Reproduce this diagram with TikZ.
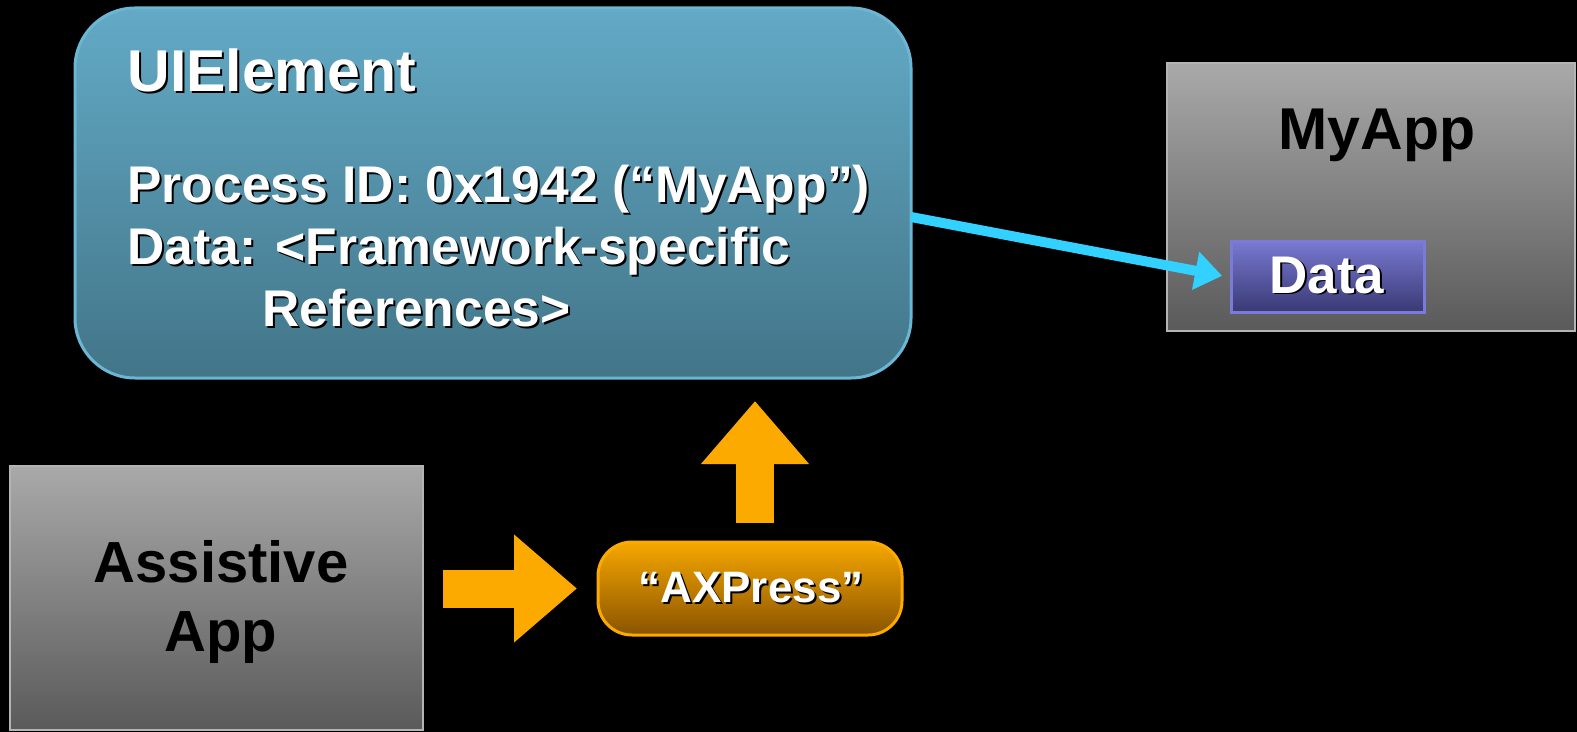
\documentclass[tikz,border=0pt]{standalone}
\usepackage{fontspec}
\setmainfont{Liberation Sans}
\usetikzlibrary{arrows.meta,calc}
\definecolor{uitop}{HTML}{63AAC6}
\definecolor{uibot}{HTML}{427588}
\definecolor{uiedge}{HTML}{6AB6D3}
\definecolor{gtop}{HTML}{A9A9A9}
\definecolor{gbot}{HTML}{5A5A5A}
\definecolor{gedge}{HTML}{B4B4B4}
\definecolor{dtop}{HTML}{7878D0}
\definecolor{dbot}{HTML}{383874}
\definecolor{dedge}{HTML}{7A7AD8}
\definecolor{otop}{HTML}{F6A700}
\definecolor{obot}{HTML}{8A5400}
\definecolor{oedge}{HTML}{FCAA00}
\definecolor{cyanline}{HTML}{33D1FF}
\newcommand\shd[1]{\leavevmode\rlap{\kern1pt\raisebox{-1pt}{\color{black}#1}}#1}
\begin{document}
\begin{tikzpicture}[x=0.5pt,y=-0.5pt,
  boxbase/.style={inner sep=0pt, outer sep=0pt},
  uibox/.style={boxbase, draw=uiedge, line width=1.5pt, rounded corners=30pt, top color=uitop, bottom color=uibot},
  graybox/.style={boxbase, draw=gedge, line width=1pt, top color=gtop, bottom color=gbot},
  databox/.style={boxbase, draw=dedge, line width=1.5pt, top color=dtop, bottom color=dbot},
  axbox/.style={boxbase, draw=oedge, line width=1.5pt, rounded corners=17pt, top color=otop, bottom color=obot},
  wtext/.style={inner sep=0pt, text=white, font=\bfseries\fontsize{#1}{#1}\selectfont},
  btext/.style={inner sep=0pt, text=black, font=\bfseries\fontsize{#1}{#1}\selectfont},
  blockarrow/.style={draw=oedge, line width=19pt, -{Triangle[length=31.5pt, width=52pt]}},
  cyanarrow/.style={draw=cyanline, line width=5pt, -{Triangle[length=13.5pt, width=18.5pt]}}
]
\useasboundingbox (0,0) rectangle (1577,732);
\fill[black] (0,0) rectangle (1577,732);

% UIElement box
\node[uibox, minimum width=418pt, minimum height=185pt] (ui) at (493,193) {};
\node[wtext=29.5pt, anchor=base west] (uititle) at (127,92) {\shd{UIElement}};
\node[wtext=25.8pt, anchor=base west] (uipid) at (127,203) {\shd{Process ID: 0x1942 (“MyApp”)}};
\node[wtext=25.8pt, anchor=base west] (uidata) at (127,265) {\shd{Data: <Framework-specific}};
\node[wtext=25.8pt, anchor=base west] (uiref) at (262,327) {\shd{References>}};

% MyApp box
\node[graybox, minimum width=204pt, minimum height=134pt] (myapp) at (1371,197) {};
\node[btext=29.5pt, anchor=base] (myapptitle) at (1377,150) {MyApp};
\node[databox, minimum width=96.5pt, minimum height=35.5pt] (data) at (1327.5,277.5) {};
\node[wtext=26.5pt, anchor=base] (datalabel) at (1327,293) {\shd{Data}};

% Assistive App box
\node[graybox, minimum width=206.5pt, minimum height=132pt] (assist) at (216.5,598) {};
\node[btext=29pt, anchor=base] (assistl1) at (221,582) {Assistive};
\node[btext=29pt, anchor=base] (assistl2) at (221,651) {App};

% AXPress box
\node[axbox, minimum width=152pt, minimum height=46.5pt] (axpress) at (750,588.5) {};
\node[wtext=22pt, anchor=base] (axlabel) at (751,602) {\shd{“AXPress”}};

% connectors
\draw[cyanarrow, shorten >=4.5pt] ($(ui.east)+(0,24)$) -- (data.west);
\draw[blockarrow, shorten <=10pt, shorten >=10.5pt] (assist.east |- axpress.west) -- (axpress.west);
\draw[blockarrow, shorten <=9.5pt, shorten >=11.5pt] ($(axpress.north)+(5,0)$) -- ($(axpress.north |- ui.south)+(5,0)$);
\end{tikzpicture}
\end{document}
